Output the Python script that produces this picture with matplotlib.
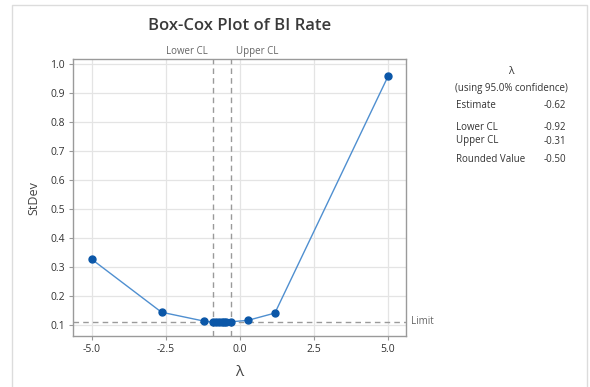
import matplotlib
matplotlib.use("Agg")
import matplotlib.pyplot as plt
from matplotlib.patches import Rectangle
from matplotlib.ticker import FormatStrFormatter

# Box-Cox profile: lambda vs. standard deviation of the transformed data
lambdas = [-5.0, -2.65, -1.2, -0.92, -0.80, -0.70, -0.62, -0.54, -0.46, -0.31, 0.27, 1.18, 5.0]
stdevs = [0.326, 0.144, 0.113, 0.110, 0.110, 0.1098, 0.1097, 0.1098, 0.110, 0.111, 0.116, 0.141, 0.957]

estimate = -0.62
lower_cl = -0.92
upper_cl = -0.31
rounded_value = -0.50
limit = 0.111
confidence = 95.0

x_ticks = [-5.0, -2.5, 0.0, 2.5, 5.0]
y_ticks = [0.1, 0.2, 0.3, 0.4, 0.5, 0.6, 0.7, 0.8, 0.9, 1.0]

plt.rcParams['font.family'] = ['Open Sans', 'DejaVu Sans']

fig = plt.figure(figsize=(5.9, 3.87), dpi=100)
fig.patch.set_facecolor('white')

# thin frame around the whole graph
fig.patches.append(Rectangle((12 / 590, -0.01), 575 / 590, 1 - 5 / 387 + 0.01,
                             transform=fig.transFigure, fill=False,
                             edgecolor='#dcdcdc', linewidth=1.0))

ax = fig.add_axes([0.1237, 0.1318, 0.5645, 0.715])
ax.set_xlim(-5.64, 5.61)
ax.set_ylim(0.062, 1.016)

ax.grid(True, color='#e4e4e4', linewidth=0.9)
ax.set_axisbelow(True)

ax.axhline(limit, color='#9a9a9a', linestyle=(0, (4, 3)), linewidth=1.0, zorder=2)
for v in (lower_cl, upper_cl):
    ax.axvline(v, color='#9a9a9a', linestyle=(0, (4, 3)), linewidth=1.0, zorder=2)

ax.plot(lambdas, stdevs, color='#4f8fd0', linewidth=1.0, zorder=3)
ax.plot(lambdas, stdevs, linestyle='none', marker='o', markersize=5.0,
        color='#0b57a8', zorder=4)

ax.set_xticks(x_ticks)
ax.set_yticks(y_ticks)
ax.xaxis.set_major_formatter(FormatStrFormatter('%.1f'))
ax.yaxis.set_major_formatter(FormatStrFormatter('%.1f'))
ax.tick_params(axis='both', labelsize=7.5, labelcolor='#333333', length=3,
               width=0.8, pad=3, color='#9a9a9a')
for s in ax.spines.values():
    s.set_color('#9a9a9a')
    s.set_linewidth(1.0)

ax.set_xlabel('λ', fontsize=11, color='#444444', labelpad=7)
ax.set_ylabel('StDev', fontsize=9, color='#444444', labelpad=7)

# labels for the confidence limits and the limit line
ax.text(lower_cl, 1.025, 'Lower CL  ', ha='right', va='bottom',
        fontsize=7, color='#666666')
ax.text(upper_cl, 1.025, '  Upper CL', ha='left', va='bottom',
        fontsize=7, color='#666666')
ax.text(5.61, limit, '  Limit', ha='left', va='center', fontsize=7,
        color='#666666', clip_on=False)

fig.text(240 / 590, 1 - 26 / 387, 'Box-Cox Plot of BI Rate', ha='center',
         va='center', fontsize=12, fontweight='semibold', color='#3a3a3a')

# summary panel on the right
tc = '#333333'
fig.text(511 / 590, 1 - 72 / 387, 'λ', ha='center', va='center', fontsize=7.5, color=tc)
fig.text(511 / 590, 1 - 89 / 387, f'(using {confidence:.1f}% confidence)',
         ha='center', va='center', fontsize=7, color=tc)
rows = [('Estimate', estimate, 106),
        ('Lower CL', lower_cl, 127),
        ('Upper CL', upper_cl, 141),
        ('Rounded Value', rounded_value, 160)]
for name, val, ypx in rows:
    fig.text(456 / 590, 1 - ypx / 387, name, ha='left', va='center',
             fontsize=7, color=tc)
    fig.text(566 / 590, 1 - ypx / 387, f'{val:.2f}', ha='right', va='center',
             fontsize=7, color=tc)

fig.savefig('out.png', dpi=100, facecolor='white')
